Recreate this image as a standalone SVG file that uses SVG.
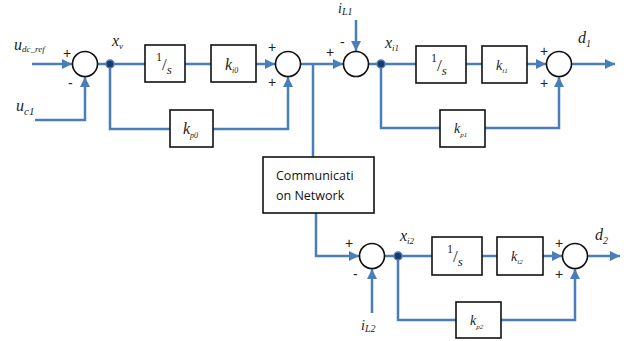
<svg xmlns="http://www.w3.org/2000/svg" width="633" height="341" viewBox="0 0 633 341">
<style>
.c{fill:none;stroke:#4a7ebb;stroke-width:2.5;stroke-linejoin:miter}
.a{marker-end:url(#ah)}
.b{fill:#fff;stroke:#111;stroke-width:1.6}
.s{fill:#fff;stroke:#111;stroke-width:1.6}
.j{fill:#1f3864;stroke:#4a7ebb;stroke-width:1.5}
.m{font-family:"Liberation Serif","Times New Roman",serif;font-style:italic;fill:#222}
.v{font-size:16px}
.sub{font-size:9px}
.p{font-family:"Liberation Sans",Arial,sans-serif;font-size:14px;fill:#222}
.t{font-family:"Open Sans","Liberation Sans",Arial,sans-serif;font-size:12.5px;fill:#111}
.one{font-style:normal;font-size:12px}
.sl{font-style:normal;font-size:17px}
.ss{font-size:13px}
</style>
<defs>
<marker id="ah" markerUnits="userSpaceOnUse" markerWidth="10" markerHeight="10" refX="10" refY="5" orient="auto">
<path d="M0,0 L10,5 L0,10 z" fill="#4a7ebb"/>
</marker>
</defs>
<g id="connectors">
<path class="c a" d="M32,64 H72"/>
<path class="c a" d="M35,120 H85 V77"/>
<path class="c" d="M97,64 H145"/>
<path class="c" d="M185,64 H211"/>
<path class="c a" d="M256,64 H275"/>
<path class="c" d="M110,64 V129 H170"/>
<path class="c a" d="M213,129 H288 V77"/>
<path class="c a" d="M300,64 H343"/>
<path class="c" d="M313,64 V157"/>
<path class="c a" d="M356,20 V51"/>
<path class="c" d="M369,64 H416"/>
<path class="c" d="M466,64 H482"/>
<path class="c a" d="M527,64 H546"/>
<path class="c a" d="M572,64 H615"/>
<path class="c" d="M381,64 V128 H440"/>
<path class="c a" d="M485,128 H559 V77"/>
<path class="c a" d="M316,213 V256 H359"/>
<path class="c a" d="M372,313 V269"/>
<path class="c" d="M385,256 H432"/>
<path class="c" d="M482,256 H497"/>
<path class="c a" d="M543,256 H562"/>
<path class="c a" d="M588,256 H620"/>
<path class="c" d="M398,256 V320 H456"/>
<path class="c a" d="M501,320 H575 V269"/>
</g>
<g id="labels-inputs">
<text class="m" x="14" y="50"><tspan class="v">u</tspan><tspan class="sub" font-size="11" dy="2">dc_ref</tspan></text>
<text class="m" x="16" y="111"><tspan class="v">u</tspan><tspan font-size="11" dy="4">c1</tspan></text>
<text class="m" x="338" y="13"><tspan font-size="14">i</tspan><tspan font-size="10" dy="2">L1</tspan></text>
<text class="m" x="361" y="330"><tspan font-size="14">i</tspan><tspan font-size="10" dy="2">L2</tspan></text>
</g>
<g id="sum1">
<circle class="s" cx="85" cy="64" r="12.5"/>
<text class="p" x="63" y="58">+</text>
<text class="p" x="68" y="88">-</text>
</g>
<g id="xv">
<circle class="j" cx="110" cy="64" r="4"/>
<text class="m" x="112" y="46"><tspan class="v">x</tspan><tspan class="sub" dy="3">v</tspan></text>
</g>
<g id="int0">
<rect class="b" x="145" y="45" width="40" height="37"/>
<text class="m" x="156" y="61"><tspan class="one">1</tspan><tspan class="sl" dy="9">/</tspan><tspan class="ss" dy="4">s</tspan></text>
</g>
<g id="ki0">
<rect class="b" x="211" y="45" width="45" height="37"/>
<text class="m" x="225" y="70"><tspan class="v">k</tspan><tspan font-size="8" dy="3">i0</tspan></text>
</g>
<g id="sum2">
<circle class="s" cx="288" cy="64" r="12.5"/>
<text class="p" x="268" y="52">+</text>
<text class="p" x="268" y="87">+</text>
</g>
<g id="kp0">
<rect class="b" x="170" y="110" width="43" height="37"/>
<text class="m" x="183" y="134"><tspan class="v">k</tspan><tspan font-size="8" dy="4">p0</tspan></text>
</g>
<g id="comm">
<rect class="b" x="263" y="157" width="111" height="56"/>
<text class="t" x="276" y="180">Communicati</text>
<text class="t" x="276" y="200">on Network</text>
</g>
<g id="sum3">
<circle class="s" cx="356" cy="64" r="12.5"/>
<text class="p" x="326" y="57">+</text>
<text class="p" x="340" y="47">-</text>
</g>
<g id="xi1">
<circle class="j" cx="381" cy="64" r="4"/>
<text class="m" x="385" y="48"><tspan class="v">x</tspan><tspan class="sub" dy="3">i1</tspan></text>
</g>
<g id="int1">
<rect class="b" x="416" y="46" width="50" height="37"/>
<text class="m" x="431" y="62"><tspan class="one">1</tspan><tspan class="sl" dy="9">/</tspan><tspan class="ss" dy="4">s</tspan></text>
</g>
<g id="ki1">
<rect class="b" x="482" y="46" width="45" height="37"/>
<text class="m" x="496" y="70"><tspan font-size="14">k</tspan><tspan font-size="7" dy="3">i1</tspan></text>
</g>
<g id="sum4">
<circle class="s" cx="559" cy="64" r="12.5"/>
<text class="p" x="540" y="56">+</text>
<text class="p" x="540" y="88">+</text>
</g>
<g id="kp1">
<rect class="b" x="440" y="110" width="45" height="37"/>
<text class="m" x="454" y="133"><tspan font-size="14">k</tspan><tspan font-size="7" dy="4">p1</tspan></text>
</g>
<g id="d1">
<text class="m" x="578" y="43"><tspan class="v">d</tspan><tspan font-size="10" dy="4">1</tspan></text>
</g>
<g id="sum5">
<circle class="s" cx="372" cy="256" r="12.5"/>
<text class="p" x="345" y="248">+</text>
<text class="p" x="353" y="279">-</text>
</g>
<g id="xi2">
<circle class="j" cx="398" cy="256" r="4"/>
<text class="m" x="400" y="241"><tspan class="v">x</tspan><tspan class="sub" dy="3">i2</tspan></text>
</g>
<g id="int2">
<rect class="b" x="432" y="237" width="50" height="38"/>
<text class="m" x="447" y="253"><tspan class="one">1</tspan><tspan class="sl" dy="9">/</tspan><tspan class="ss" dy="4">s</tspan></text>
</g>
<g id="ki2">
<rect class="b" x="497" y="237" width="46" height="38"/>
<text class="m" x="511" y="261"><tspan font-size="14">k</tspan><tspan font-size="7" dy="3">i2</tspan></text>
</g>
<g id="sum6">
<circle class="s" cx="575" cy="256" r="12.5"/>
<text class="p" x="555" y="248">+</text>
<text class="p" x="555" y="279">+</text>
</g>
<g id="kp2">
<rect class="b" x="456" y="302" width="45" height="36"/>
<text class="m" x="470" y="325"><tspan font-size="14">k</tspan><tspan font-size="7" dy="4">p2</tspan></text>
</g>
<g id="d2">
<text class="m" x="595" y="240"><tspan class="v">d</tspan><tspan font-size="10" dy="4">2</tspan></text>
</g>
</svg>
